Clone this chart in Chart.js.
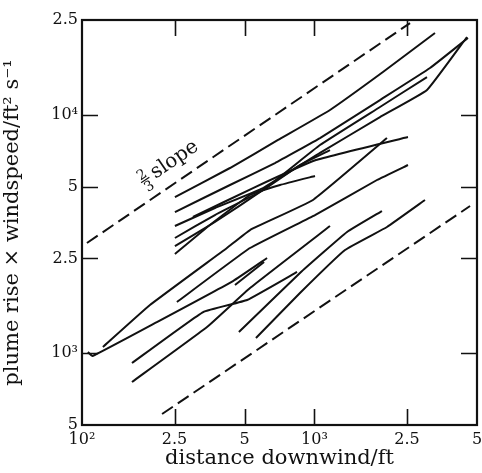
<!DOCTYPE html>
<html><head><meta charset="utf-8">
<script src="https://cdn.jsdelivr.net/npm/chart.js@4"></script>
<style>html,body{margin:0;padding:0;background:#fff}#wrap{width:482px;height:473px}</style>
</head><body><div id="wrap"><canvas id="c" width="482" height="473"></canvas></div>
<script>
// tick values and labels
const xTickValues = [100, 250, 500, 1000, 2500, 5000];
const xTickLabels = ['10²', '2.5', '5', '10³', '2.5', '5'];
const yTickValues = [500, 1000, 2500, 5000, 10000, 25000];
const yTickLabels = ['5', '10³', '2.5', '5', '10⁴', '2.5'];

// reference 2/3 slope lines (dashed)
const dashHighX = [105, 2576];  const dashHighY = [2900, 24270];
const dashLowX  = [221, 4667];  const dashLowY  = [556, 4146];

// observed plume-rise curves (distance ft, rise*windspeed ft^2/s)
const u1X = [251, 433, 697, 1166, 1970, 3298];       const u1Y = [4522, 5985, 7845, 10480, 15120, 22050];
const u2X = [251, 433, 676, 1056, 1913, 3139, 4572]; const u2Y = [3912, 5078, 6280, 7995, 11540, 15720, 21010];
const u3X = [251, 373, 601, 1056, 1913, 3047, 4527]; const u3Y = [3417, 4066, 4932, 6920, 9790, 12710, 21215];
const u4X = [251, 373, 601, 1056, 1913, 3047];       const u4Y = [3044, 3800, 4838, 7470, 10790, 14410];
const u5X = [251, 373, 601, 866, 1166];              const u5Y = [2817, 3552, 4838, 6160, 7120];
const u6X = [251, 355, 528, 711, 1005];              const u6Y = [2608, 3451, 4611, 5078, 5540];
const u7X = [300, 544, 1015, 2524];                  const u7Y = [3728, 4932, 6465, 8075];
const g1X = [123, 196, 420, 528, 985, 2050];         const g1Y = [1062, 1593, 2763, 3288, 4393, 7995];
const g2X = [106, 111, 210, 446, 625];               const g2Y = [1012, 974, 1352, 2009, 2509];
const sX  = [455, 607];                              const sY  = [1933, 2414];
const m1X = [473, 866, 1380, 1951];                  const m1Y = [1227, 2171, 3225, 3950];
const m2X = [560, 866, 1353, 2050, 2987];            const m2Y = [1159, 1790, 2711, 3385, 4393];
const m3X = [164, 345, 528, 1166];                   const m3Y = [757, 1288, 1877, 3417];
const m4X = [164, 332, 513, 841];                    const m4Y = [910, 1489, 1672, 2192];
const m5X = [256, 528, 1005, 1857, 2524];            const m5Y = [1640, 2763, 3800, 5330, 6160];

// slope label anchor (data coords)
const slopeLabelX = 187; const slopeLabelY = 5330;

const FONT = '"DejaVu Serif", serif';
const toPts = (xs, ys) => xs.map((v, i) => ({x: v, y: ys[i]}));
const solid = [[u1X,u1Y],[u2X,u2Y],[u3X,u3Y],[u4X,u4Y],[u5X,u5Y],[u6X,u6Y],[u7X,u7Y],
  [g1X,g1Y],[g2X,g2Y],[sX,sY],[m1X,m1Y],[m2X,m2Y],[m3X,m3Y],[m4X,m4Y],[m5X,m5Y]];
const datasets = solid.map(([xs, ys]) => ({
  data: toPts(xs, ys), borderColor: '#111', borderWidth: 2, pointRadius: 0,
  tension: 0.1, fill: false
}));
[[dashHighX, dashHighY], [dashLowX, dashLowY]].forEach(([xs, ys]) => datasets.push({
  data: toPts(xs, ys), borderColor: '#111', borderWidth: 2, pointRadius: 0,
  borderDash: [13, 6], fill: false
}));

const framePlugin = {
  id: 'frame',
  afterDraw(chart) {
    const {ctx, chartArea: a, scales: {x, y}} = chart;
    ctx.save();
    ctx.strokeStyle = '#111';
    ctx.lineWidth = 2.2;
    ctx.strokeRect(a.left, a.top, a.right - a.left, a.bottom - a.top);
    const L = 16;
    ctx.lineWidth = 1.6;
    ctx.beginPath();
    xTickValues.slice(1, -1).forEach(v => {
      const p = Math.round(x.getPixelForValue(v)) + 0.5;
      ctx.moveTo(p, a.bottom); ctx.lineTo(p, a.bottom - L);
      ctx.moveTo(p, a.top); ctx.lineTo(p, a.top + L);
    });
    yTickValues.slice(1, -1).forEach(v => {
      const p = Math.round(y.getPixelForValue(v)) + 0.5;
      ctx.moveTo(a.left, p); ctx.lineTo(a.left + L, p);
      ctx.moveTo(a.right, p); ctx.lineTo(a.right - L, p);
    });
    ctx.stroke();
    // 2/3 slope label, rotated parallel to the dashed line
    const x1 = x.getPixelForValue(dashHighX[0]), y1 = y.getPixelForValue(dashHighY[0]);
    const x2 = x.getPixelForValue(dashHighX[1]), y2 = y.getPixelForValue(dashHighY[1]);
    const ang = Math.atan2(y2 - y1, x2 - x1);
    ctx.translate(x.getPixelForValue(slopeLabelX), y.getPixelForValue(slopeLabelY));
    ctx.rotate(ang);
    ctx.fillStyle = '#111';
    ctx.textAlign = 'center';
    ctx.font = '14px ' + FONT;
    ctx.textBaseline = 'alphabetic';
    ctx.fillText('2', 0, -2);
    ctx.textBaseline = 'top';
    ctx.fillText('3', 0, 1);
    ctx.lineWidth = 1.2;
    ctx.beginPath(); ctx.moveTo(-5, 0); ctx.lineTo(5, 0); ctx.stroke();
    ctx.textAlign = 'left';
    ctx.textBaseline = 'alphabetic';
    ctx.font = '20px ' + FONT;
    ctx.fillText('slope', 9, 5);
    ctx.restore();
  }
};

new Chart(document.getElementById('c'), {
  type: 'line',
  data: {datasets},
  options: {
    responsive: false, animation: false, devicePixelRatio: 1,
    layout: {padding: {top: 20, right: 5, left: 0, bottom: 0}},
    plugins: {legend: {display: false}, tooltip: {enabled: false}},
    scales: {
      x: {
        type: 'logarithmic', min: 100, max: 5000,
        afterBuildTicks: s => { s.ticks = xTickValues.map(v => ({value: v})); },
        afterFit: s => { s.height = 48; s.paddingRight = 0; s.paddingLeft = 0; },
        grid: {display: false, drawTicks: false},
        border: {display: false},
        ticks: {
          autoSkip: false, maxRotation: 0, padding: 5, color: '#111',
          font: {family: FONT, size: 16},
          callback: (v, i) => xTickLabels[i]
        },
        title: {display: true, text: 'distance downwind/ft', color: '#111',
          font: {family: FONT, size: 21}, padding: {top: 0, bottom: 2}}
      },
      y: {
        type: 'logarithmic', min: 500, max: 25000,
        afterBuildTicks: s => { s.ticks = yTickValues.map(v => ({value: v})); },
        afterFit: s => { s.width = 82; s.paddingTop = 0; s.paddingBottom = 0; },
        grid: {display: false, drawTicks: false},
        border: {display: false},
        ticks: {
          autoSkip: false, padding: 4, color: '#111',
          font: {family: FONT, size: 16},
          callback: (v, i) => yTickLabels[i]
        },
        title: {display: true, text: 'plume rise × windspeed/ft² s⁻¹', color: '#111',
          font: {family: FONT, size: 21}, padding: {top: 0, bottom: 6}}
      }
    }
  },
  plugins: [framePlugin]
});
</script>
</body></html>
